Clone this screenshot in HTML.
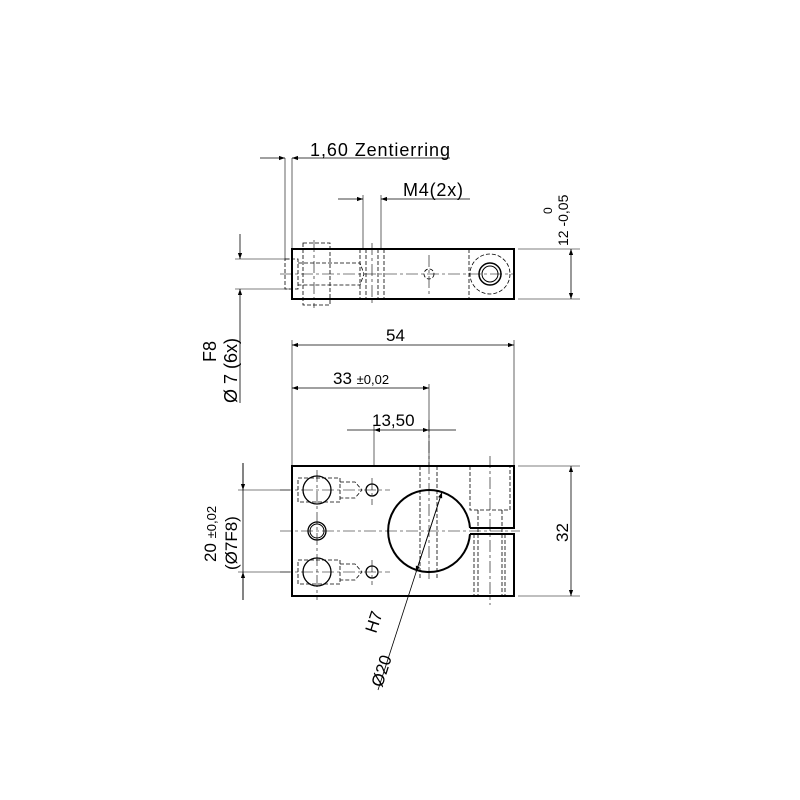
<!DOCTYPE html>
<html><head><style>body{margin:0;background:#fff}svg{display:block}text{font-family:"Liberation Sans",sans-serif;fill:#000}</style></head><body>
<svg width="800" height="800" viewBox="0 0 800 800" xmlns="http://www.w3.org/2000/svg">
<defs><marker id="a" viewBox="0 0 10 10" refX="10" refY="5" markerWidth="10" markerHeight="6" orient="auto-start-reverse" markerUnits="userSpaceOnUse"><path d="M0,1.5L10,5L0,8.5z" fill="#000"/></marker></defs>
<g stroke="#000" fill="none" stroke-width="1">
<!-- top view -->
<rect x="292" y="249" width="222" height="50" stroke-width="2"/>
<g stroke-dasharray="4,2" stroke-width="0.8">
<rect x="303" y="243" width="27" height="62"/>
<path d="M285 259H298V289H285Z M298 263H360L364 274L360 285H298"/>
<line x1="360" y1="249" x2="360" y2="299"/><line x1="366" y1="249" x2="366" y2="299"/>
<line x1="378" y1="249" x2="378" y2="299"/><line x1="384" y1="249" x2="384" y2="299"/>
<line x1="469" y1="249" x2="469" y2="299"/>
<circle cx="490" cy="274" r="20"/><circle cx="429" cy="274" r="5"/>
</g>
<circle cx="490" cy="274" r="11" stroke-width="1.5"/><circle cx="490" cy="274" r="8"/>
<path d="M280 274H514 M372 243V305 M429 255V295 M314 240V308" stroke-width="0.6" stroke-dasharray="12,3,3,3"/>
<!-- top dims -->
<path d="M285 158V259 M292 158V249 M363 195V249 M381 195V249 M518 249H580 M518 299H580 M235 259H290 M235 289H290" stroke-width="0.6"/>
<line x1="260" y1="158" x2="285" y2="158" marker-end="url(#a)" stroke-width="0.8"/>
<line x1="450" y1="158" x2="292" y2="158" marker-end="url(#a)" stroke-width="0.8"/>
<line x1="338" y1="199" x2="363" y2="199" marker-end="url(#a)" stroke-width="0.8"/>
<line x1="470" y1="199" x2="381" y2="199" marker-end="url(#a)" stroke-width="0.8"/>
<line x1="571" y1="249" x2="571" y2="299" marker-start="url(#a)" marker-end="url(#a)" stroke-width="0.8"/>
<line x1="240" y1="234" x2="240" y2="259" marker-end="url(#a)" stroke-width="0.8"/>
<line x1="240" y1="403" x2="240" y2="289" marker-end="url(#a)" stroke-width="0.8"/>
<!-- front view -->
<path d="M470 528H514V466H292V596H514V534H470" stroke-width="2"/>
<path d="M470 528A41 41 0 1 0 470 534" stroke-width="2"/>
<g stroke-dasharray="4,2" stroke-width="0.8">
<path d="M420 466V580 M437 466V580 M470 466V510 H510 V466 M478 510V596 M502 510V596 M474 534V596 M505 534V596"/>
<path d="M298 478H340 V502 H298Z M298 560H340V584H298Z M340 482H355L362 490L355 498H340 M340 564H355L362 572L355 580H340"/>
</g>
<circle cx="317" cy="490" r="14" stroke-width="1.3"/><circle cx="317" cy="572" r="14" stroke-width="1.3"/>
<circle cx="317" cy="531" r="9" stroke-width="1.3"/><circle cx="317" cy="531" r="7"/>
<circle cx="372" cy="490" r="6" stroke-width="1.3"/><circle cx="372" cy="572" r="6" stroke-width="1.3"/>
<path d="M280 531H520 M280 490H390 M280 572H390 M317 470V600 M372 478V505 M372 560V585 M429 420V580 M490 456V605" stroke-width="0.6" stroke-dasharray="12,3,3,3"/>
<!-- front dims -->
<path d="M292 340V466 M514 340V466 M429 384V466 M374 425V466 M518 466H580 M518 596H580 M238 490H290 M238 572H290" stroke-width="0.6"/>
<line x1="292" y1="345" x2="514" y2="345" marker-start="url(#a)" marker-end="url(#a)" stroke-width="0.8"/>
<line x1="292" y1="388" x2="429" y2="388" marker-start="url(#a)" marker-end="url(#a)" stroke-width="0.8"/>
<line x1="347" y1="430" x2="374" y2="430" stroke-width="0.8"/>
<line x1="374" y1="430" x2="429" y2="430" marker-start="url(#a)" marker-end="url(#a)" stroke-width="0.8"/>
<line x1="429" y1="430" x2="456" y2="430" stroke-width="0.8"/>
<line x1="571" y1="466" x2="571" y2="596" marker-start="url(#a)" marker-end="url(#a)" stroke-width="0.8"/>
<line x1="243" y1="463" x2="243" y2="600" stroke-width="0.8"/>
<line x1="243" y1="463" x2="243" y2="490" marker-end="url(#a)" stroke-width="0.8"/>
<line x1="243" y1="600" x2="243" y2="572" marker-end="url(#a)" stroke-width="0.8"/>
<line x1="378" y1="690" x2="442" y2="492" marker-end="url(#a)" stroke-width="0.8"/>
<line x1="442" y1="492" x2="416" y2="572" marker-end="url(#a)" stroke-width="0.8"/>
</g>
<text x="310" y="156" font-size="18" textLength="140">1,60 Zentierring</text>
<text x="403" y="196" font-size="18" textLength="60">M4(2x)</text>
<text transform="translate(568,246) rotate(-90)" font-size="14">12 -0,05</text>
<text transform="translate(552,214) rotate(-90)" font-size="12">0</text>
<text transform="translate(237,403) rotate(-90)" font-size="18">Ø 7  (6x)</text>
<text transform="translate(216,362) rotate(-90)" font-size="18">F8</text>
<text x="386" y="341" font-size="17">54</text>
<text x="333" y="384" font-size="17">33 <tspan font-size="13">±0,02</tspan></text>
<text x="372" y="426" font-size="17">13,50</text>
<text transform="translate(568,542) rotate(-90)" font-size="17">32</text>
<text transform="translate(216,562) rotate(-90)" font-size="17">20 <tspan font-size="13">±0,02</tspan></text>
<text transform="translate(237,570) rotate(-90)" font-size="17">(Ø7F8)</text>
<text transform="translate(376,634) rotate(-72)" font-size="17">H7</text>
<text transform="translate(382,688) rotate(-72)" font-size="17">Ø20</text>
</svg>
</body></html>
